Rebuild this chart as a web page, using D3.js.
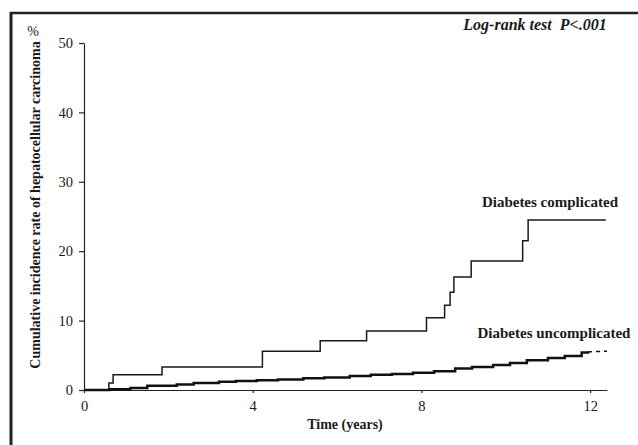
<!DOCTYPE html>
<html lang="en">
<head>
<meta charset="UTF-8">
<title>Cumulative incidence of HCC</title>
<style>
  body { margin: 0; background: #fff; }
  svg text { font-family: "Liberation Serif", "Times New Roman", serif; fill: #1a1a1a; }
</style>
</head>
<body>
<script src="https://cdn.jsdelivr.net/npm/d3@7"></script>
<div id="chart"></div>
<script>
// tick labels
var xTicks = [0, 4, 8, 12];
var yTicks = [0, 10, 20, 30, 40, 50];

// diabetes complicated: step times (years) and cumulative %
var compTime  = [0, 0.59, 0.69, 1.85, 4.23, 5.6, 6.7, 8.12, 8.55, 8.68, 8.77, 9.18, 10.4, 10.53, 12.37];
var compValue = [0, 1.0, 2.2, 3.3, 5.6, 7.1, 8.5, 10.4, 12.2, 14.1, 16.3, 18.6, 21.5, 24.5, 24.5];

// diabetes uncomplicated
var uncTime  = [0, 0.6, 1.1, 1.5, 2.2, 2.6, 3.2, 3.6, 4.1, 4.6, 5.2, 5.7, 6.3, 6.8, 7.3, 7.8, 8.3, 8.8, 9.2, 9.7, 10.1, 10.5, 11.0, 11.4, 11.8, 11.95];
var uncValue = [0, 0.1, 0.3, 0.6, 0.8, 1.0, 1.2, 1.3, 1.4, 1.5, 1.7, 1.8, 2.0, 2.2, 2.3, 2.5, 2.7, 3.1, 3.3, 3.6, 3.9, 4.3, 4.6, 4.9, 5.4, 5.5];
// censored tail, drawn dashed
var uncTailTime  = [11.95, 12.4];
var uncTailValue = [5.5, 5.6];

var width = 638, height = 445;

var svg = d3.select("#chart").append("svg")
    .attr("width", width)
    .attr("height", height);

// frame (top and left edges as in the scan)
svg.append("line").attr("x1", 10).attr("x2", 638).attr("y1", 13).attr("y2", 13)
    .attr("stroke", "#222").attr("stroke-width", 2.5);
svg.append("line").attr("x1", 11).attr("x2", 11).attr("y1", 12).attr("y2", 445)
    .attr("stroke", "#222").attr("stroke-width", 3);

var x = d3.scaleLinear().domain([0, 12.4]).range([84, 607]);
var y = d3.scaleLinear().domain([0, 50]).range([390, 43]);

// axes
var yAxis = svg.append("g")
    .attr("transform", "translate(" + x(0) + ",0)")
    .call(d3.axisLeft(y).tickValues(yTicks).tickSize(5).tickSizeOuter(0).tickPadding(6));
yAxis.selectAll("text").style("font-size", "14.5px");

var xAxis = svg.append("g")
    .attr("transform", "translate(0," + y(0) + ")")
    .call(d3.axisBottom(x).tickValues(xTicks).tickSize(3).tickSizeOuter(0).tickPadding(8));
xAxis.selectAll("text").style("font-size", "14.5px");

svg.selectAll(".domain, .tick line").attr("stroke", "#222").attr("stroke-width", 1.2);

// curves
var line = d3.line()
    .x(function(d) { return x(d[0]); })
    .y(function(d) { return y(d[1]); })
    .curve(d3.curveStepAfter);

svg.append("path")
    .datum(d3.zip(compTime, compValue))
    .attr("d", line)
    .attr("fill", "none")
    .attr("stroke", "#1a1a1a")
    .attr("stroke-width", 1.5);

svg.append("path")
    .datum(d3.zip(uncTime, uncValue))
    .attr("d", line)
    .attr("fill", "none")
    .attr("stroke", "#111")
    .attr("stroke-width", 2.5);

svg.append("path")
    .datum(d3.zip(uncTailTime, uncTailValue))
    .attr("d", d3.line().x(function(d) { return x(d[0]); }).y(function(d) { return y(d[1]); }))
    .attr("fill", "none")
    .attr("stroke", "#111")
    .attr("stroke-width", 1.5)
    .attr("stroke-dasharray", "4,4");

// texts
svg.append("text")
    .attr("x", 33).attr("y", 36)
    .attr("text-anchor", "middle")
    .style("font-size", "14px")
    .text("%");

svg.append("text")
    .attr("transform", "translate(40,205) rotate(-90)")
    .attr("text-anchor", "middle")
    .style("font-size", "14px")
    .style("font-weight", "bold")
    .text("Cumulative incidence rate of hepatocellular carcinoma");

svg.append("text")
    .attr("x", 345).attr("y", 429)
    .attr("text-anchor", "middle")
    .style("font-size", "14px")
    .style("font-weight", "bold")
    .text("Time (years)");

svg.append("text")
    .attr("x", 535).attr("y", 30)
    .attr("text-anchor", "middle")
    .style("font-size", "16px")
    .style("font-weight", "bold")
    .style("font-style", "italic")
    .style("white-space", "pre")
    .text("Log-rank test  P<.001");

svg.append("text")
    .attr("x", 550).attr("y", 207)
    .attr("text-anchor", "middle")
    .style("font-size", "15px")
    .style("font-weight", "bold")
    .text("Diabetes complicated");

svg.append("text")
    .attr("x", 554).attr("y", 338)
    .attr("text-anchor", "middle")
    .style("font-size", "15px")
    .style("font-weight", "bold")
    .text("Diabetes uncomplicated");
</script>
</body>
</html>
